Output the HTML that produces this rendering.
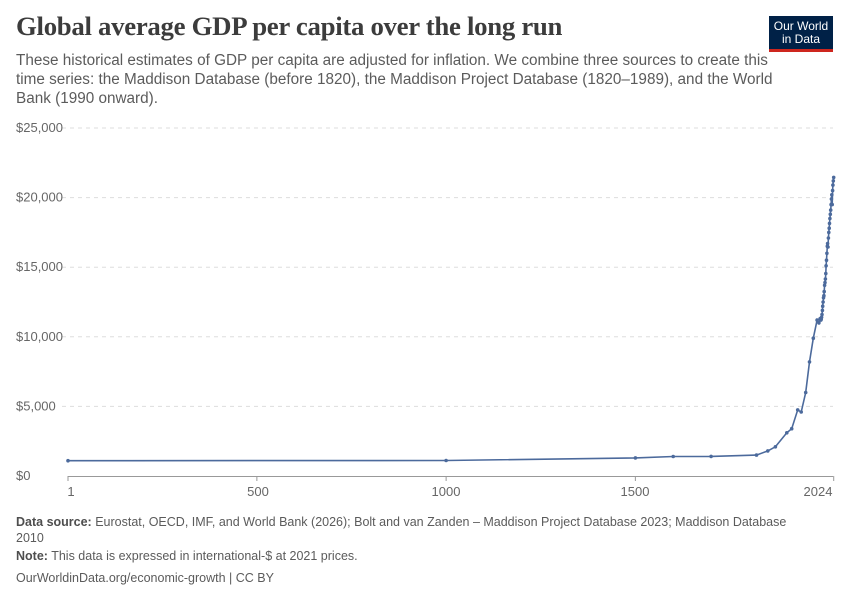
<!DOCTYPE html>
<html><head><meta charset="utf-8"><style>
body{margin:0;width:850px;height:600px;background:#fff;font-family:"Liberation Sans",sans-serif;overflow:hidden;position:relative}
.t{position:absolute;left:16px;top:11px;font-family:"Liberation Serif",serif;font-size:26.8px;color:#3c3c3c;font-weight:bold;letter-spacing:-0.3px}
.s{position:absolute;left:16px;top:51px;width:800px;font-size:15.3px;line-height:19px;color:#5b5b5b;white-space:nowrap}
.logo{position:absolute;left:769px;top:16px;width:64px;height:36px;background:#002147;color:#fff;font-size:12px;line-height:13px;text-align:center;box-sizing:border-box;padding-top:4px;border-bottom:3px solid #ce261e}
.f{position:absolute;left:16px;font-size:12.5px;color:#5b5b5b;line-height:16px;width:800px}
.f b{color:#4e4e4e}
</style></head><body>
<div class="t">Global average GDP per capita over the long run</div>
<div class="s">These historical estimates of GDP per capita are adjusted for inflation. We combine three sources to create this<br>time series: the Maddison Database (before 1820), the Maddison Project Database (1820–1989), and the World<br>Bank (1990 onward).</div>
<div class="logo">Our World<br>in Data</div>
<svg id="c" width="850" height="600" style="position:absolute;left:0;top:0" font-family="Liberation Sans, sans-serif" font-size="13" fill="#666"></svg>
<div class="f" style="top:514px"><b>Data source:</b> Eurostat, OECD, IMF, and World Bank (2026); Bolt and van Zanden – Maddison Project Database 2023; Maddison Database 2010</div>
<div class="f" style="top:548px"><b>Note:</b> This data is expressed in international-$ at 2021 prices.</div>
<div class="f" style="top:570px">OurWorldinData.org/economic-growth | CC BY</div>
<script>
var s='',X=function(y){return 68+(y-1)*0.3785},Y=function(v){return 476-v*0.01392};
[0,5000,10000,15000,20000,25000].forEach(function(v){var y=Y(v);
if(v>0)s+='<line x1="62" x2="833" y1="'+y+'" y2="'+y+'" stroke="#ddd" stroke-dasharray="4,4"/>';
s+='<text x="16" y="'+(y+4)+'">$'+v.toLocaleString('en-US')+'</text>';});
s+='<line x1="68" x2="833" y1="476.5" y2="476.5" stroke="#999"/>';
[[1,'1',71],[500,'500',258],[1000,'1000',446],[1500,'1500',635],[2024,'2024',818]].forEach(function(a){var x=X(a[0]);
s+='<line x1="'+x+'" x2="'+x+'" y1="476" y2="481" stroke="#999"/><text x="'+a[2]+'" y="496" text-anchor="middle">'+a[1]+'</text>';});
var d=[[1,1100],[1000,1110],[1500,1300],[1600,1400],[1700,1410],[1820,1500],[1850,1800],[1870,2100],[1900,3100],[1913,3400],[1929,4750],[1938,4600],[1950,6000],[1960,8200],[1970,9900],[1980,11200],[1985,11000],[1988,11300]];
var m={1990:11200,1991:11250,1992:11400,1993:11600,1994:11900,1995:12200,1996:12500,1997:12800,1998:12950,1999:13250,2000:13700,2001:13900,2002:14150,2003:14550,2004:15100,2005:15500,2006:16000,2007:16500,2008:16700,2009:16450,2010:17100,2011:17500,2012:17800,2013:18150,2014:18500,2015:18800,2016:19100,2017:19500,2018:19900,2019:20200,2020:19500,2021:20500,2022:20900,2023:21200,2024:21450};
for(var k in m)d.push([+k,m[k]]);
var pts=d.map(function(p){return X(p[0]).toFixed(1)+','+Y(p[1]).toFixed(1)});
s+='<polyline points="'+pts.join(' ')+'" fill="none" stroke="#4c6a9c" stroke-width="1.6"/>';
pts.forEach(function(p){var q=p.split(',');s+='<circle cx="'+q[0]+'" cy="'+q[1]+'" r="1.8" fill="#4c6a9c"/>';});
document.getElementById('c').innerHTML=s;
</script>
</body></html>
